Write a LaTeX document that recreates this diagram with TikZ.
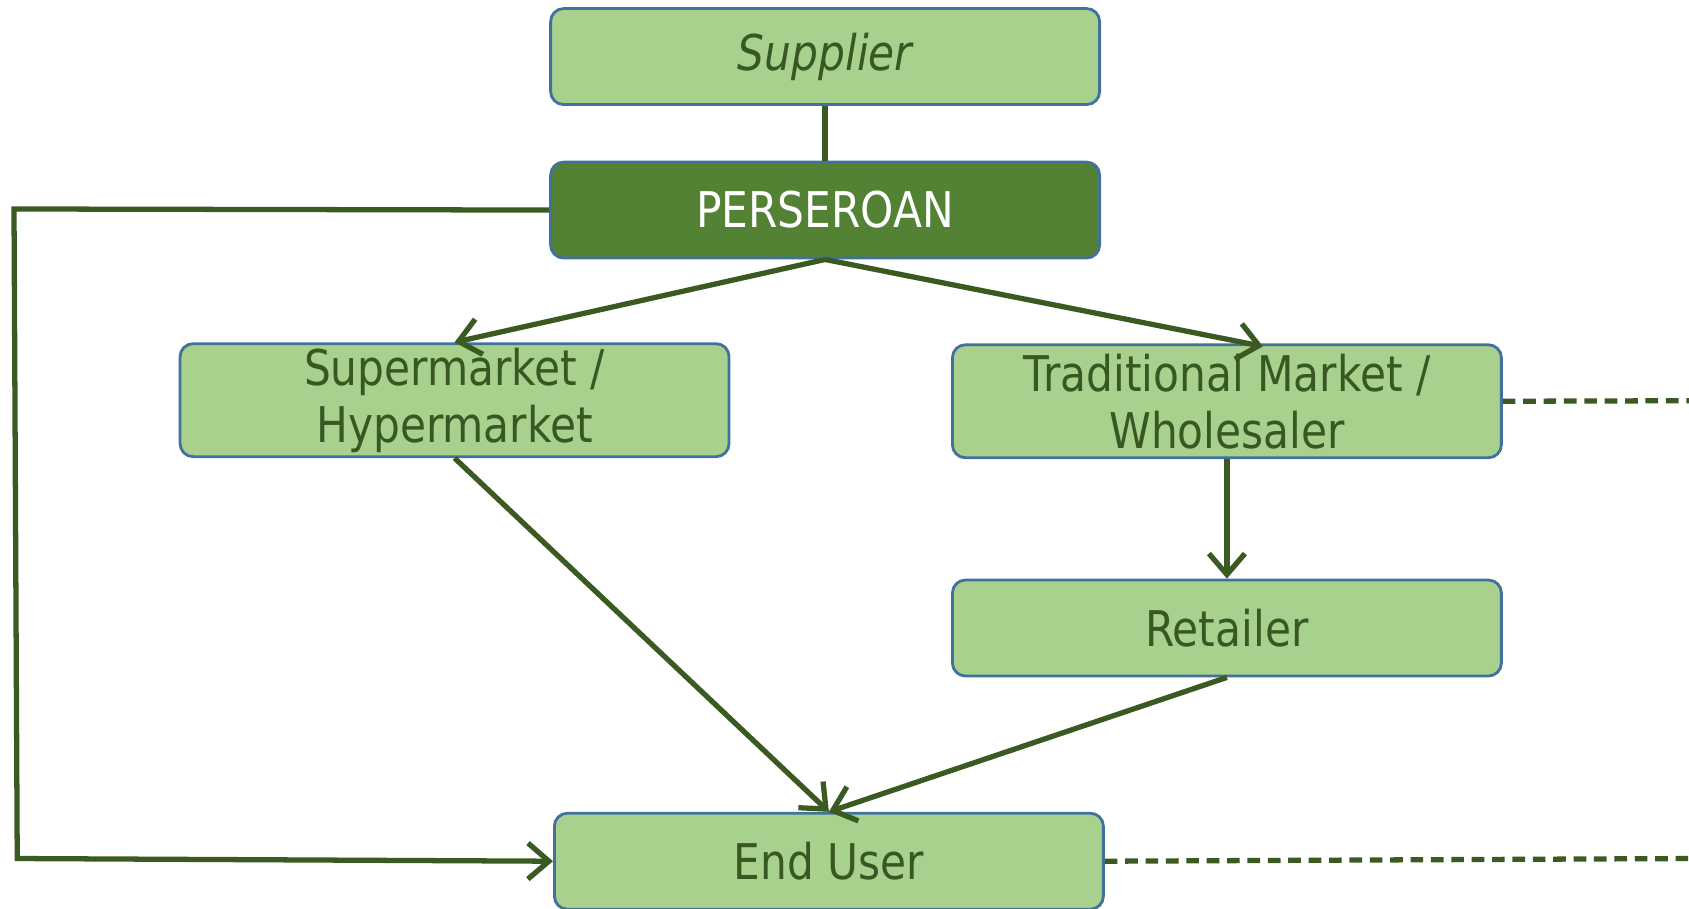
\documentclass[tikz,border=0pt]{standalone}
\usepackage{fontspec}
\setmainfont{DejaVu Sans}[FakeStretch=0.86]
\usepackage{xcolor}
\usetikzlibrary{arrows.meta}
\definecolor{boxgreen}{HTML}{A9D18E}
\definecolor{darkgreen}{HTML}{548235}
\definecolor{linegreen}{HTML}{3B5A22}
\definecolor{textgreen}{HTML}{385723}
\definecolor{edgeblue}{HTML}{41719C}
\tikzset{>={Straight Barb[length=2.1mm,width=3.6mm,line width=1.5pt]}}

\begin{document}
\begin{tikzpicture}[x=0.010772cm, y=-0.010772cm]
        % box = light green step, mainbox = the company itself
        \tikzstyle{box}=[rectangle, rounded corners=0.13cm, draw=edgeblue, line width=0.8pt, fill=boxgreen, text=textgreen, minimum width=5.49cm, minimum height=0.96cm, align=center, font=\fontsize{14}{16.2}\selectfont]
        \tikzstyle{mainbox}=[box, fill=darkgreen, text=white]
        \tikzstyle{twoline}=[box, inner ysep=0pt, minimum height=1.13cm]
        \tikzstyle{flow}=[linegreen, line width=1.5pt]
        \tikzstyle{every edge}=[flow, ->, draw]
        \tikzstyle{dashline}=[flow, dash pattern=on 3.6pt off 2.2pt]
        \clip (0,0) rectangle (1568,843);

        \node[box] (sup) at (766,52.5) {\itshape Supplier};
        \node[mainbox] (pers) at (766,195) {PERSEROAN};
        \node[twoline] (super) at (422,371.5) {Supermarket /\\Hypermarket};
        \node[twoline] (trad) at (1139,372.5) {Traditional Market /\\Wholesaler};
        \node[box] (ret) at (1139,583) {Retailer};
        \node[box] (end) at (769.5,799.5) {End User};

        \coordinate (lt) at (13,194);
        \coordinate (lb) at (16,797);
        \coordinate (tradout) at (1568,372);
        \coordinate (endout) at (1568,797);

        \draw[flow] (sup) -- (pers);
        \draw[flow, ->] (pers.west) -- (lt) -- (lb) -- (end.west);
        \draw (pers.south) edge (super.north);
        \draw (pers.south) edge ([xshift=0.36cm, yshift=-0.03cm]trad.north);
        \draw (super.south) edge (end.north);
        \draw (trad.south) edge (ret.north);
        \draw (ret.south) edge (end.north);

        \draw[dashline] (trad.east) -- (tradout);
        \draw[dashline] (end.east) -- (endout);
\end{tikzpicture}
\end{document}
